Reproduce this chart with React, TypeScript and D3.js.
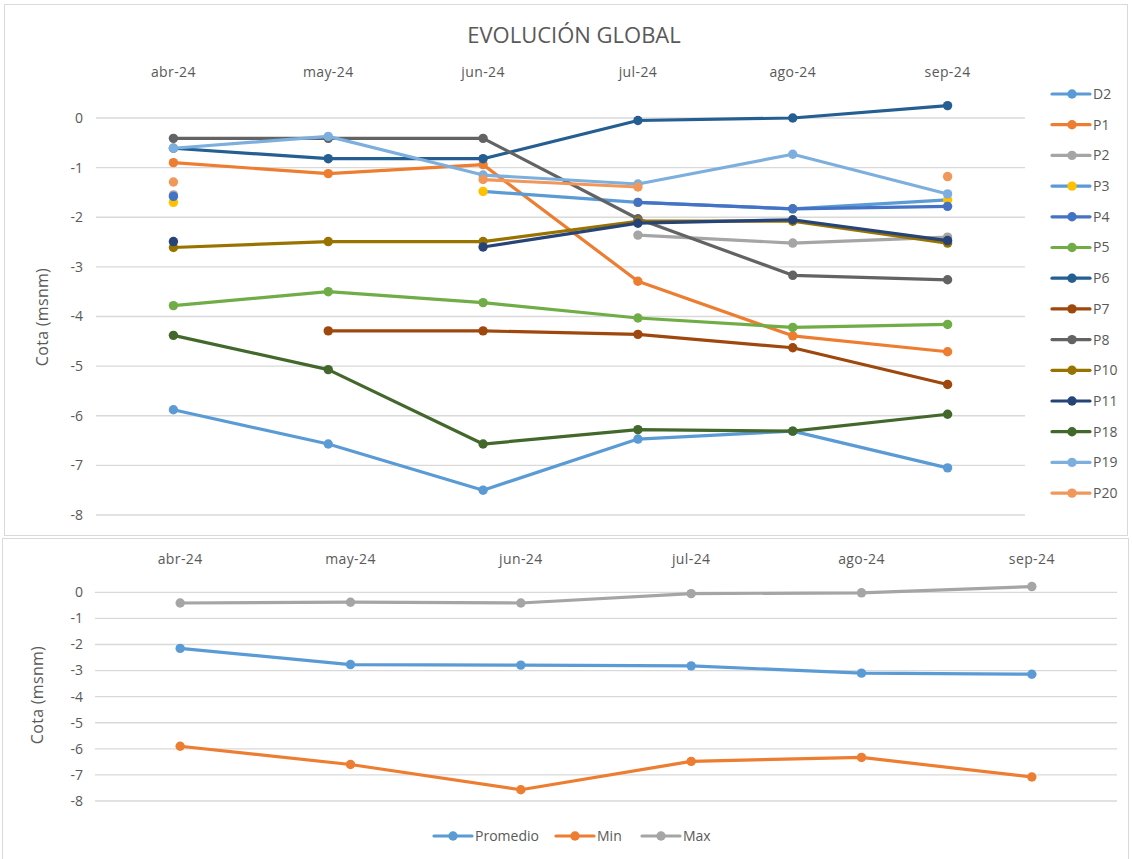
import React from "react";
import * as d3 from "d3";

const months = ["abr-24", "may-24", "jun-24", "jul-24", "ago-24", "sep-24"];
const yTicks = [0, -1, -2, -3, -4, -5, -6, -7, -8];

type V = number | null;
const D2: V[] = [-5.88, -6.57, -7.5, -6.47, -6.31, -7.05];
const P1: V[] = [-0.9, -1.12, -0.94, -3.29, -4.39, -4.71];
const P2: V[] = [-1.55, null, null, -2.36, -2.52, -2.4];
const P3: V[] = [-1.7, null, -1.48, -1.7, -1.83, -1.65];
const P4: V[] = [-1.58, null, null, -1.7, -1.83, -1.78];
const P5: V[] = [-3.78, -3.5, -3.72, -4.03, -4.22, -4.16];
const P6: V[] = [-0.61, -0.82, -0.82, -0.05, -0.0, 0.25];
const P7: V[] = [null, -4.29, -4.29, -4.36, -4.63, -5.37];
const P8: V[] = [-0.41, -0.41, -0.41, -2.03, -3.17, -3.26];
const P10: V[] = [-2.61, -2.49, -2.49, -2.08, -2.08, -2.52];
const P11: V[] = [-2.49, null, -2.6, -2.12, -2.05, -2.47];
const P18: V[] = [-4.38, -5.07, -6.57, -6.28, -6.31, -5.97];
const P19: V[] = [-0.61, -0.37, -1.15, -1.33, -0.73, -1.53];
const P20: V[] = [-1.29, null, -1.24, -1.39, null, -1.18];

const promedio: V[] = [-2.15, -2.77, -2.79, -2.82, -3.1, -3.14];
const minimo: V[] = [-5.9, -6.6, -7.57, -6.48, -6.33, -7.08];
const maximo: V[] = [-0.41, -0.38, -0.41, -0.05, -0.02, 0.22];

const topSeries = [
  { name: "D2", values: D2, line: "#5B9BD5", marker: "#5B9BD5" },
  { name: "P1", values: P1, line: "#ED7D31", marker: "#ED7D31" },
  { name: "P2", values: P2, line: "#A5A5A5", marker: "#A5A5A5" },
  { name: "P3", values: P3, line: "#5B9BD5", marker: "#FFC000" },
  { name: "P4", values: P4, line: "#4472C4", marker: "#4472C4" },
  { name: "P5", values: P5, line: "#70AD47", marker: "#70AD47" },
  { name: "P6", values: P6, line: "#255E91", marker: "#255E91" },
  { name: "P7", values: P7, line: "#9E480E", marker: "#9E480E" },
  { name: "P8", values: P8, line: "#636363", marker: "#636363" },
  { name: "P10", values: P10, line: "#997300", marker: "#997300" },
  { name: "P11", values: P11, line: "#264478", marker: "#264478" },
  { name: "P18", values: P18, line: "#43682B", marker: "#43682B" },
  { name: "P19", values: P19, line: "#7CAFDD", marker: "#7CAFDD" },
  { name: "P20", values: P20, line: "#F1975A", marker: "#F1975A" },
];

const bottomSeries = [
  { name: "Promedio", values: promedio, line: "#5B9BD5", marker: "#5B9BD5" },
  { name: "Min", values: minimo, line: "#ED7D31", marker: "#ED7D31" },
  { name: "Max", values: maximo, line: "#A5A5A5", marker: "#A5A5A5" },
];

const FONT = "'Open Sans', 'Noto Sans', sans-serif";
const TXT = "#595959";
const GRID = "#D9D9D9";
const FS = 14;

type Series = { name: string; values: V[]; line: string; marker: string };

function Panel(props: {
  series: Series[];
  x0: number;
  x1: number;
  yTop: number;
  yBot: number;
  labelY: number;
  tickX: number;
  titleX: number;
  titleY: number;
  r: number;
  lw: number;
}) {
  const { series, x0, x1, yTop, yBot, labelY, tickX, titleX, titleY, r, lw } = props;
  const x = d3.scaleBand<string>().domain(months).range([x0, x1]);
  const cx = (m: string) => (x(m) as number) + x.bandwidth() / 2;
  const y = d3.scaleLinear().domain([-8, 0]).range([yBot, yTop]);
  const line = d3
    .line<V>()
    .defined((d) => d != null)
    .x((_, i) => cx(months[i]))
    .y((d) => y(d as number));
  return (
    <g>
      {yTicks.map((t) => (
        <g key={t}>
          <line x1={x0} x2={x1} y1={y(t)} y2={y(t)} stroke={GRID} strokeWidth={1.3} />
          <text x={tickX} y={y(t)} dy="0.35em" textAnchor="end" fontSize={FS} fill={TXT} fontFamily={FONT}>
            {t}
          </text>
        </g>
      ))}
      {months.map((m) => (
        <text
          key={m}
          x={cx(m)}
          y={labelY}
          dy="0.35em"
          textAnchor="middle"
          fontSize={FS}
          letterSpacing={0.4}
          fill={TXT}
          fontFamily={FONT}
        >
          {m}
        </text>
      ))}
      <text
        transform={`translate(${titleX},${titleY}) rotate(-90)`}
        textAnchor="middle"
        dy="0.35em"
        fontSize={16}
        letterSpacing={0.3}
        fill={TXT}
        fontFamily={FONT}
      >
        Cota (msnm)
      </text>
      {series.map((s) => (
        <g key={s.name}>
          <path
            d={line(s.values) || ""}
            fill="none"
            stroke={s.line}
            strokeWidth={lw}
            strokeLinejoin="round"
            strokeLinecap="round"
          />
          {s.values.map((v, i) =>
            v == null ? null : <circle key={i} cx={cx(months[i])} cy={y(v)} r={r} fill={s.marker} />
          )}
        </g>
      ))}
    </g>
  );
}

export default function App() {
  const legendX = 1052;
  const legendY0 = 94;
  const legendStep = 30.7;
  const bottomLegend = [
    { s: bottomSeries[0], lx: 434 },
    { s: bottomSeries[1], lx: 556 },
    { s: bottomSeries[2], lx: 642 },
  ];
  return (
    <svg width={1132} height={859} style={{ position: "absolute", left: 0, top: 0, background: "#fff" }}>
      <rect x={0} y={0} width={1132} height={859} fill="#fff" />
      <rect x={4.5} y={4.5} width={1123} height={531} fill="#fff" stroke={GRID} strokeWidth={1} />
      <rect x={2.5} y={538.5} width={1126} height={330} fill="#fff" stroke={GRID} strokeWidth={1} />
      <text x={574} y={35} dy="0.35em" textAnchor="middle" fontSize={22} fill={TXT} fontFamily={FONT}>
        EVOLUCIÓN GLOBAL
      </text>
      <Panel
        series={topSeries}
        x0={96}
        x1={1025}
        yTop={118}
        yBot={515}
        labelY={72}
        tickX={83}
        titleX={42}
        titleY={317}
        r={4.7}
        lw={3.2}
      />
      {topSeries.map((s, i) => {
        const yy = legendY0 + i * legendStep;
        return (
          <g key={s.name}>
            <line x1={legendX} x2={legendX + 38} y1={yy} y2={yy} stroke={s.line} strokeWidth={3.2} strokeLinecap="round" />
            <circle cx={legendX + 20} cy={yy} r={4.7} fill={s.marker} />
            <text x={legendX + 41} y={yy} dy="0.35em" fontSize={FS} fill={TXT} fontFamily={FONT}>
              {s.name}
            </text>
          </g>
        );
      })}
      <Panel
        series={bottomSeries}
        x0={95}
        x1={1117}
        yTop={592.3}
        yBot={801}
        labelY={559}
        tickX={83}
        titleX={37}
        titleY={695}
        r={4.7}
        lw={3.2}
      />
      {bottomLegend.map(({ s, lx }) => (
        <g key={s.name}>
          <line x1={lx} x2={lx + 38} y1={836} y2={836} stroke={s.line} strokeWidth={3.2} strokeLinecap="round" />
          <circle cx={lx + 19} cy={836} r={4.7} fill={s.marker} />
          <text x={lx + 41} y={836} dy="0.35em" fontSize={FS} fill={TXT} fontFamily={FONT}>
            {s.name}
          </text>
        </g>
      ))}
    </svg>
  );
}
